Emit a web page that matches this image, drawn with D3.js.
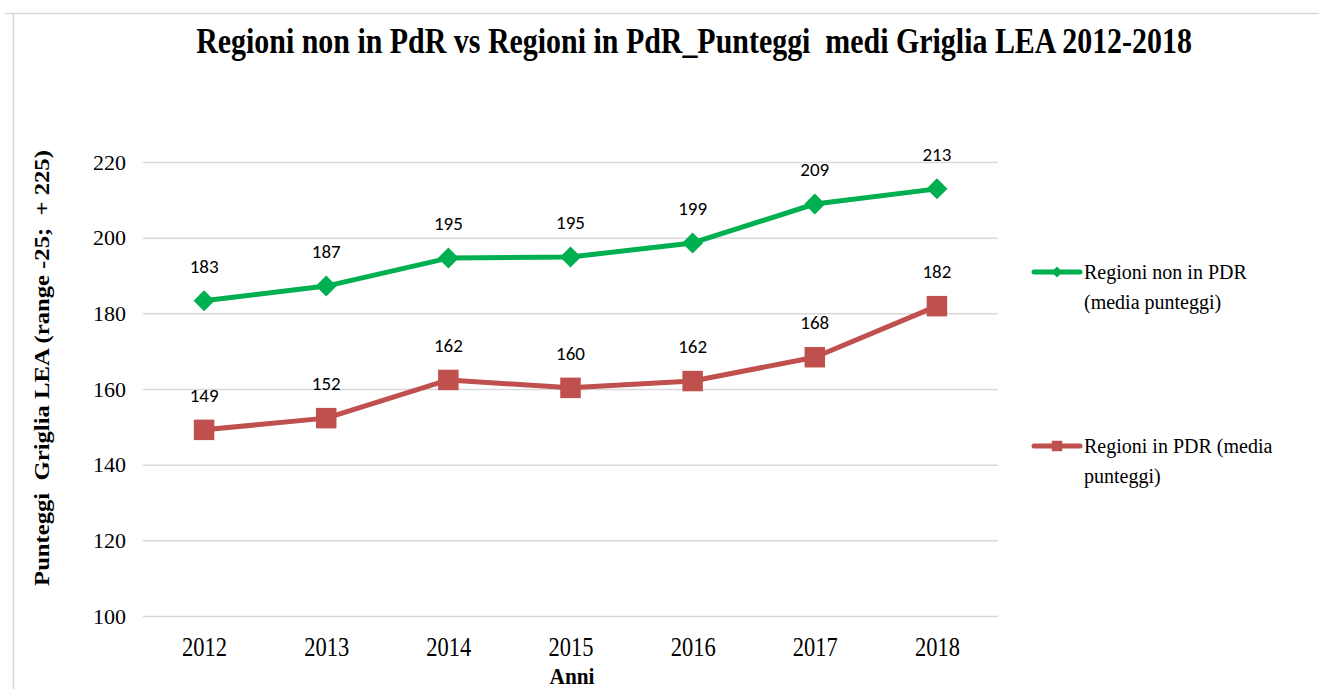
<!DOCTYPE html>
<html>
<head>
<meta charset="utf-8">
<script src="https://cdn.jsdelivr.net/npm/d3@7"></script>
<style>
  body { margin: 0; background: #fff; }
  svg { display: block; }
</style>
</head>
<body>
<div id="chart"></div>
<script>
width = 1319;
height = 689;
chart_margins = {left: 143, right: 321, top: 162, bottom: 73};

years = ["2012", "2013", "2014", "2015", "2016", "2017", "2018"];
nonPdr = [183.3, 187.2, 194.6, 194.9, 198.6, 208.9, 212.9];
inPdr = [149.2, 152.3, 162.4, 160.3, 162.1, 168.4, 181.9];
yTicks = [100, 120, 140, 160, 180, 200, 220];
seriesNames = [["Regioni non in PDR", "(media punteggi)"], ["Regioni in PDR (media", "punteggi)"]];
seriesColors = ["#00B050", "#C0504D"];

var serif = "Liberation Serif, Times New Roman, serif";

var svg = d3.select("#chart").append("svg")
    .attr("width", width)
    .attr("height", height);

// squeeze a text horizontally so it fills a given width (the original is condensed)
function fitText(sel, cx, cy, w, rot) {
    var len = sel.node().getComputedTextLength();
    var k = w / len;
    sel.attr("x", 0).attr("y", 0)
       .attr("transform", "translate(" + cx + "," + cy + ")" + (rot ? " rotate(" + rot + ")" : "") + " scale(" + k + ",1)");
}

// outer frame
svg.append("path")
    .attr("d", "M5,13.5 H" + width + " M13.5,13.5 V" + height)
    .attr("stroke", "#d9d9d9")
    .attr("stroke-width", 1.5)
    .attr("fill", "none");

var xScale = d3.scalePoint().domain(years)
    .range([chart_margins.left, width - chart_margins.right]).padding(0.5);
var yScale = d3.scaleLinear().domain([100, 220])
    .range([height - chart_margins.bottom, chart_margins.top]);

// gridlines
svg.append("g")
    .selectAll("line")
    .data(yTicks)
    .enter()
    .append("line")
    .attr("x1", chart_margins.left)
    .attr("x2", width - chart_margins.right)
    .attr("y1", d => yScale(d) + 0.5)
    .attr("y2", d => yScale(d) + 0.5)
    .attr("stroke", "#d9d9d9")
    .attr("stroke-width", 1.5);

var yAxis = d3.axisLeft(yScale).tickValues(yTicks).tickSize(0).tickPadding(17);
svg.append("g")
    .attr("transform", "translate(" + chart_margins.left + ",0)")
    .call(yAxis)
    .call(g => g.select(".domain").remove())
    .selectAll("text")
    .attr("font-family", serif)
    .attr("font-size", 22)
    .attr("fill", "#000");

var xAxis = d3.axisBottom(xScale).tickSize(0).tickPadding(0);
svg.append("g")
    .attr("transform", "translate(0," + (height - chart_margins.bottom) + ")")
    .call(xAxis)
    .call(g => g.select(".domain").remove())
    .selectAll("text")
    .attr("font-family", serif)
    .attr("font-size", 27)
    .attr("fill", "#000")
    .attr("dy", null)
    .attr("y", 40)
    .each(function() {
        var len = this.getComputedTextLength();
        d3.select(this).attr("transform", "scale(" + (45 / len) + ",1)");
    });

// title
var title = svg.append("text")
    .attr("text-anchor", "middle")
    .attr("font-family", serif)
    .attr("font-weight", "bold")
    .attr("font-size", 36)
    .style("white-space", "pre")
    .text("Regioni non in PdR vs Regioni in PdR_Punteggi  medi Griglia LEA 2012-2018");
fitText(title, 694, 53, 996);

// axis titles
var ylab = svg.append("text")
    .attr("text-anchor", "middle")
    .attr("font-family", serif)
    .attr("font-weight", "bold")
    .attr("font-size", 22)
    .style("white-space", "pre")
    .text("Punteggi  Griglia LEA (range -25;  + 225)");
fitText(ylab, 49, 368, 436, -90);

var xlab = svg.append("text")
    .attr("text-anchor", "middle")
    .attr("font-family", serif)
    .attr("font-weight", "bold")
    .attr("font-size", 24)
    .text("Anni");
fitText(xlab, 572, 684, 45);

var line = d3.line()
    .x((d, i) => xScale(years[i]))
    .y(d => yScale(d));

var allSeries = [nonPdr, inPdr];
allSeries.forEach(function(values, s) {
    svg.append("path")
        .datum(values)
        .attr("d", line)
        .attr("fill", "none")
        .attr("stroke", seriesColors[s])
        .attr("stroke-width", 5)
        .attr("stroke-linejoin", "round");

    var sym = s == 0 ? d3.symbol().type(d3.symbolSquare).size(220)
                     : d3.symbol().type(d3.symbolSquare).size(420);
    svg.append("g")
        .selectAll("path")
        .data(values)
        .enter()
        .append("path")
        .attr("d", sym)
        .attr("transform", function(d, i) {
            var t = "translate(" + xScale(years[i]) + "," + yScale(d) + ")";
            return s == 0 ? t + " rotate(45)" : t;
        })
        .attr("fill", seriesColors[s]);

    svg.append("g")
        .selectAll("text")
        .data(values)
        .enter()
        .append("text")
        .attr("x", (d, i) => xScale(years[i]))
        .attr("y", d => yScale(d) - 28)
        .attr("text-anchor", "middle")
        .attr("font-family", "Carlito, Lato, Open Sans, sans-serif")
        .attr("font-size", 19)
        .attr("fill", "#000")
        .text(d => Math.round(d));
});

// legend
var legendY = [272, 446];
legendY.forEach(function(ly, s) {
    var g = svg.append("g");
    g.append("line")
        .attr("x1", 1034).attr("x2", 1080)
        .attr("y1", ly).attr("y2", ly)
        .attr("stroke", seriesColors[s])
        .attr("stroke-width", 5)
        .attr("stroke-linecap", "round");
    if (s == 0) {
        g.append("path")
            .attr("d", d3.symbol().type(d3.symbolSquare).size(60))
            .attr("transform", "translate(1057," + ly + ") rotate(45)")
            .attr("fill", seriesColors[s]);
    } else {
        g.append("path")
            .attr("d", d3.symbol().type(d3.symbolSquare).size(110))
            .attr("transform", "translate(1057," + ly + ")")
            .attr("fill", seriesColors[s]);
    }
    seriesNames[s].forEach(function(t, k) {
        g.append("text")
            .attr("x", 1084)
            .attr("y", ly + 7 + k * 30)
            .attr("font-family", serif)
            .attr("font-size", 20)
            .attr("fill", "#000")
            .text(t);
    });
});
</script>
</body>
</html>
